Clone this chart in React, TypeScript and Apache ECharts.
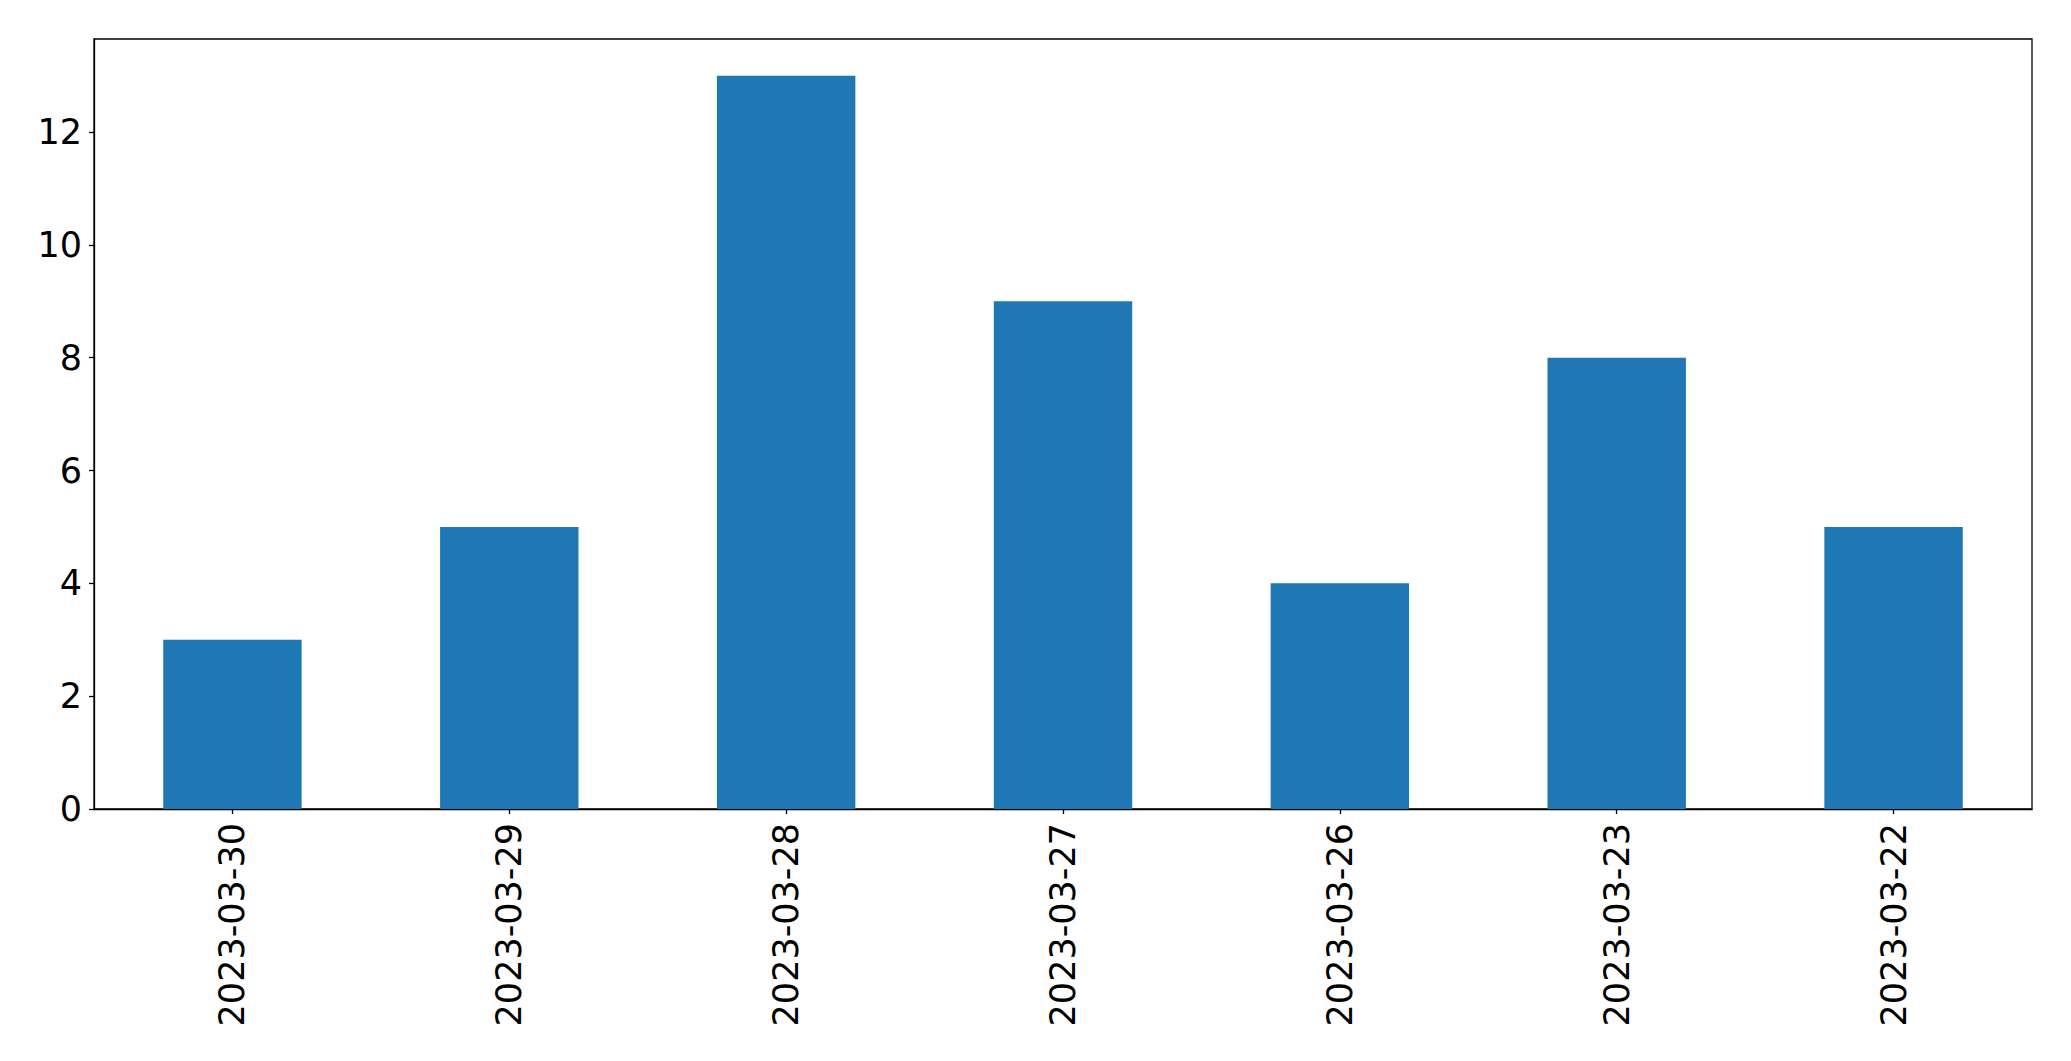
import React, { useEffect, useRef } from "react";
import * as echarts from "echarts";

const categories = ["2023-03-30", "2023-03-29", "2023-03-28", "2023-03-27", "2023-03-26", "2023-03-23", "2023-03-22"];
const values = [3, 5, 13, 9, 4, 8, 5];
const yTicks = [0, 2, 4, 6, 8, 10, 12];

export default function App() {
  const ref = useRef<HTMLDivElement>(null);
  useEffect(() => {
    const chart = echarts.init(ref.current!, null, { renderer: "svg" });
    const font = "DejaVu Sans";
    chart.setOption({
      animation: false,
      backgroundColor: "#fff",
      grid: { left: 94, right: 39, top: 39, bottom: 252, show: true, borderColor: "#000", borderWidth: 1.3, backgroundColor: "transparent" },
      xAxis: {
        type: "category",
        data: categories,
        axisLine: { show: true, lineStyle: { color: "#000", width: 1.3 } },
        axisTick: { show: true, alignWithLabel: true, length: 5, lineStyle: { color: "#000", width: 1.3 } },
        axisLabel: { rotate: 90, fontSize: 35, fontFamily: font, color: "#000", margin: 14, interval: 0 },
        splitLine: { show: false },
      },
      yAxis: {
        type: "value",
        min: 0,
        max: 13.65,
        axisLine: { show: true, lineStyle: { color: "#000", width: 1.3 } },
        axisTick: { show: true, length: 5, customValues: yTicks, lineStyle: { color: "#000", width: 1.3 } },
        axisLabel: { fontSize: 35, fontFamily: font, color: "#000", margin: 12, customValues: yTicks },
        splitLine: { show: false },
      },
      series: [
        {
          type: "bar",
          data: values,
          barWidth: "50%",
          itemStyle: { color: "#1f77b4" },
        },
      ],
    });
    return () => chart.dispose();
  }, []);
  return <div ref={ref} style={{ position: "fixed", left: 0, top: 0, width: 2071, height: 1061 }} />;
}
